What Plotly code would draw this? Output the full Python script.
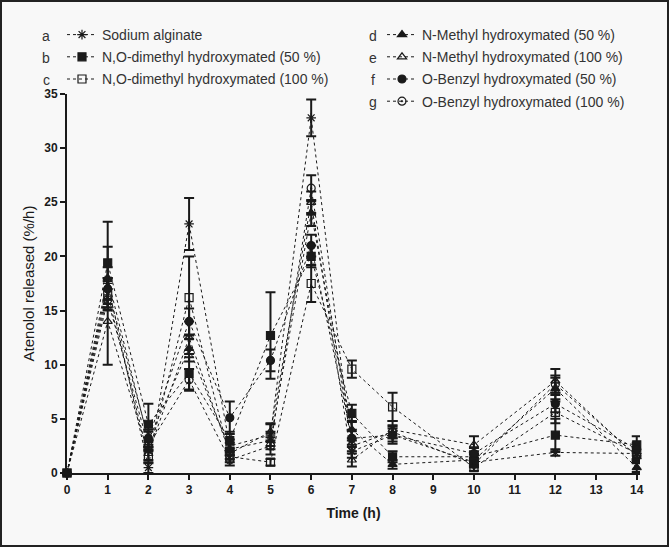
import plotly.graph_objects as go

times = [0, 1, 2, 3, 4, 5, 6, 7, 8, 10, 12, 14]
x_ticks = list(range(0, 15))
y_ticks = [0, 5, 10, 15, 20, 25, 30, 35]

letters = ["a", "b", "c", "d", "e", "f", "g"]
names = ["Sodium alginate",
         "N,O-dimethyl hydroxymated (50 %)",
         "N,O-dimethyl hydroxymated (100 %)",
         "N-Methyl hydroxymated (50 %)",
         "N-Methyl hydroxymated (100 %)",
         "O-Benzyl hydroxymated (50 %)",
         "O-Benzyl hydroxymated (100 %)"]

a_vals = [0, 17.5, 0.5, 23.0, 2.5, 3.5, 32.8, 2.0, 3.5, 1.0, 1.9, 1.8]
b_vals = [0, 19.4, 4.5, 9.2, 3.0, 12.7, 20.0, 5.5, 1.5, 1.5, 3.5, 2.6]
c_vals = [0, 16.5, 1.5, 16.2, 1.5, 1.0, 17.5, 9.6, 6.1, 0.5, 5.6, 1.8]
d_vals = [0, 18.0, 3.0, 11.5, 2.2, 3.0, 24.0, 4.0, 0.8, 1.2, 7.8, 0.5]
e_vals = [0, 14.0, 1.8, 12.5, 1.8, 3.8, 25.0, 1.2, 4.0, 2.6, 8.5, 1.5]
f_vals = [0, 17.0, 3.2, 14.0, 5.1, 10.4, 21.0, 3.2, 3.5, 1.8, 6.4, 2.2]
g_vals = [0, 16.0, 2.5, 8.6, 1.2, 2.5, 26.3, 2.5, 3.8, 0.8, 8.2, 1.6]

a_err = [0, 1.5, 0.5, 2.4, 0.6, 1.0, 1.7, 0.6, 0.8, 0.4, 0.3, 0.5]
b_err = [0, 3.8, 1.9, 1.5, 0.8, 4.0, 1.0, 0.8, 0.5, 0.5, 1.5, 0.8]
c_err = [0, 1.2, 0.6, 3.8, 0.5, 0.3, 1.7, 0.8, 1.3, 0.3, 1.0, 0.6]
d_err = [0, 2.9, 0.8, 1.2, 0.6, 0.8, 1.2, 0.8, 0.4, 0.5, 1.0, 0.4]
e_err = [0, 4.0, 0.6, 1.5, 0.5, 0.8, 1.0, 0.6, 0.8, 0.8, 1.1, 0.5]
f_err = [0, 1.0, 0.8, 1.2, 1.5, 1.0, 1.0, 0.8, 0.6, 0.5, 0.8, 0.6]
g_err = [0, 1.0, 0.5, 1.0, 0.5, 0.8, 1.2, 0.5, 0.6, 0.3, 0.8, 0.5]

values = [a_vals, b_vals, c_vals, d_vals, e_vals, f_vals, g_vals]
errors = [a_err, b_err, c_err, d_err, e_err, f_err, g_err]
symbols = ["asterisk-open", "square", "square-open", "triangle-up",
           "triangle-up-open", "circle", "circle-open-dot"]
legend_ids = ["legend", "legend", "legend", "legend2", "legend2", "legend2", "legend2"]

W, H = 669, 547
ML, MR, MT, MB = 67, 29, 94, 74
PW, PH = W - ML - MR, H - MT - MB

FONT = "Arial, Liberation Sans, sans-serif"
INK = "#1a1a1a"

fig = go.Figure()
for i in range(7):
    fig.add_trace(go.Scatter(
        x=times, y=values[i], name=names[i], mode="lines+markers",
        line=dict(color=INK, width=1, dash="dot"),
        marker=dict(symbol=symbols[i], size=8, color=INK,
                    line=dict(color=INK, width=1.2)),
        error_y=dict(type="data", array=errors[i], color=INK, thickness=2, width=5),
        cliponaxis=False, legend=legend_ids[i], legendgroup=letters[i],
    ))

def py_to_paper(py):
    return (H - MB - py) / PH

def px_to_paper(px):
    return (px - ML) / PW

row_y = [36, 58, 80, 102]
annotations = []
for i, L in enumerate(letters):
    if i < 3:
        xx, yy = 46, row_y[i]
    else:
        xx, yy = 373, row_y[i - 3]
    annotations.append(dict(text=L, xref="paper", yref="paper",
                            x=px_to_paper(xx), y=py_to_paper(yy), showarrow=False,
                            xanchor="center", yanchor="middle",
                            font=dict(family=FONT, size=14, color="#333")))

legend_common = dict(font=dict(family=FONT, size=14, color="#333"),
                     bgcolor="rgba(0,0,0,0)", traceorder="grouped",
                     tracegroupgap=1, yanchor="top", xanchor="left",
                     itemwidth=30)

fig.update_layout(
    width=W, height=H,
    margin=dict(l=ML, r=MR, t=MT, b=MB, autoexpand=False),
    paper_bgcolor="#f8f8f8", plot_bgcolor="#f8f8f8",
    font=dict(family=FONT, color=INK),
    legend=dict(x=px_to_paper(62), y=py_to_paper(19), **legend_common),
    legend2=dict(x=px_to_paper(382), y=py_to_paper(19), **legend_common),
    annotations=annotations,
    xaxis=dict(range=[0, 14.08], tickvals=x_ticks, ticktext=[str(v) for v in x_ticks],
               automargin=False,
               showgrid=False, zeroline=False, showline=True, linecolor=INK, linewidth=2,
               ticks="outside", ticklen=5, tickwidth=2, tickcolor=INK,
               tickfont=dict(family=FONT, size=12, color=INK, weight="bold"),
               title=dict(text="<b>Time (h)</b>", font=dict(family=FONT, size=14, color=INK),
                          standoff=12)),
    yaxis=dict(range=[0, 35], tickvals=y_ticks, ticktext=[str(v) for v in y_ticks],
               automargin=False,
               showgrid=False, zeroline=False, showline=True, linecolor=INK, linewidth=2,
               ticks="outside", ticklen=5, tickwidth=2, tickcolor=INK,
               tickfont=dict(family=FONT, size=12, color=INK, weight="bold"),
               title=dict(text="Atenolol released (%/h)",
                          font=dict(family=FONT, size=15, color=INK), standoff=6)),
    shapes=[dict(type="rect", xref="paper", yref="paper",
                 x0=px_to_paper(1), x1=px_to_paper(W - 1),
                 y0=py_to_paper(H - 1), y1=py_to_paper(1),
                 line=dict(color="#222", width=2), fillcolor="rgba(0,0,0,0)", layer="below")],
)

fig.write_html("out.html", config={"displayModeBar": False},
               post_script="document.body.style.margin='0';document.body.style.overflow='hidden';")
